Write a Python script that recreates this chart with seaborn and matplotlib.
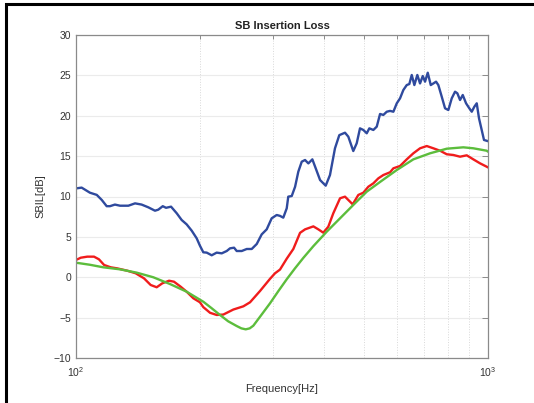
import matplotlib
matplotlib.use("Agg")
import matplotlib.pyplot as plt
import seaborn as sns
import numpy as np
from matplotlib.ticker import LogLocator, NullFormatter

# ---------------- data ----------------
blue_f = [100.0, 103.2, 108.1, 112.3, 115.5, 118.7, 120.9, 124.3, 127.9, 134.0, 139.1, 144.3,
          149.8, 155.5, 158.4, 162.4, 165.4, 170.1, 175.6, 180.5, 185.6, 190.9, 196.3, 199.9,
          203.7, 207.6, 213.5, 219.5, 225.8, 232.2, 236.5, 241.9, 245.5, 252.5, 259.7, 267.0,
          274.6, 282.3, 290.3, 298.5, 307.0, 312.7, 318.5, 324.7, 327.5, 333.9, 340.2, 346.4,
          353.1, 359.7, 366.4, 374.7, 381.8, 391.2, 403.7, 413.5, 425.2, 435.6, 449.7, 458.1,
          471.0, 480.1, 489.0, 498.2, 507.8, 515.2, 526.9, 537.0, 547.0, 557.2, 567.9, 578.5,
          589.3, 600.6, 611.7, 623.1, 635.0, 644.3, 653.0, 662.6, 673.7, 684.0, 694.4, 703.4,
          714.1, 726.2, 736.8, 748.0, 757.7, 772.2, 786.6, 801.3, 816.6, 831.8, 842.6, 855.4,
          868.4, 884.6, 901.0, 913.2, 926.5, 939.0, 951.0, 965.4, 977.9, 992.8, 1000.0]
blue_v = [11.0, 11.1, 10.47, 10.2, 9.57, 8.8, 8.8, 9.0, 8.86, 8.86, 9.15, 9.0,
          8.66, 8.24, 8.37, 8.8, 8.6, 8.74, 7.92, 7.09, 6.55, 5.77, 4.82, 3.91,
          3.09, 3.05, 2.72, 3.05, 2.96, 3.25, 3.58, 3.66, 3.25, 3.25, 3.5, 3.5,
          4.12, 5.31, 5.93, 7.3, 7.71, 7.6, 7.38, 8.54, 9.98, 10.06, 11.2, 13.07,
          14.31, 14.52, 14.1, 14.6, 13.49, 12.04, 11.34, 12.66, 15.97, 17.6, 17.9, 17.41,
          15.63, 16.59, 18.44, 18.24, 17.83, 18.44, 18.24, 18.65, 20.22, 20.1, 20.5, 20.6,
          20.5, 21.54, 22.16, 23.19, 23.8, 23.93, 25.05, 23.8, 25.05, 24.0, 24.92, 24.22,
          25.33, 23.8, 24.0, 24.22, 23.8, 22.36, 20.92, 20.71, 22.16, 22.98, 22.78, 21.95,
          22.57, 21.54, 20.92, 20.5, 21.12, 21.54, 19.68, 18.24, 17.0, 16.9, 16.85]

red_f = [100.0, 102.7, 106.5, 110.6, 113.7, 117.0, 121.4, 125.9, 133.2, 139.6, 146.2, 151.8,
         157.0, 162.0, 168.2, 172.9, 179.5, 185.6, 192.6, 199.9, 203.7, 211.5, 219.5, 227.8,
         240.9, 254.8, 264.5, 279.7, 295.7, 304.1, 312.7, 324.7, 336.9, 349.8, 359.7, 376.8,
         387.5, 398.3, 409.6, 421.2, 437.4, 449.7, 458.1, 469.5, 484.4, 498.2, 512.3, 526.9,
         541.8, 557.2, 578.5, 589.3, 611.7, 635.0, 658.9, 684.0, 710.1, 736.8, 764.9, 794.1,
         824.0, 855.4, 888.0, 921.3, 956.3, 992.8, 1000.0]
red_v = [2.14, 2.42, 2.55, 2.55, 2.22, 1.52, 1.23, 1.1, 0.81, 0.49, -0.13, -0.96,
         -1.24, -0.75, -0.43, -0.55, -1.17, -1.79, -2.6, -3.1, -3.7, -4.4, -4.67, -4.62,
         -4.0, -3.6, -3.1, -1.7, -0.2, 0.49, 0.95, 2.3, 3.5, 5.5, 5.93, 6.3,
         5.93, 5.52, 6.26, 7.92, 9.78, 9.98, 9.57, 9.03, 10.19, 10.47, 11.21, 11.63,
         12.25, 12.66, 13.0, 13.49, 13.78, 14.6, 15.35, 15.97, 16.25, 15.97, 15.67, 15.23,
         15.14, 14.93, 15.1, 14.6, 14.11, 13.69, 13.6]

green_f = [100.0, 108.0, 116.5, 127.9, 140.4, 154.0, 169.1, 185.6, 203.7, 213.0, 223.6, 234.0,
           245.5, 252.0, 258.2, 264.0, 269.4, 281.0, 295.7, 310.0, 324.7, 340.0, 356.3, 376.8,
           406.0, 437.4, 471.0, 507.8, 547.0, 600.6, 658.9, 723.4, 794.1, 871.0, 921.3, 992.8,
           1000.0]
green_v = [1.8, 1.55, 1.23, 0.98, 0.57, 0.0, -0.84, -1.79, -3.03, -3.8, -4.67, -5.45,
           -6.04, -6.33, -6.45, -6.33, -6.0, -4.75, -3.23, -1.7, -0.25, 1.1, 2.4, 3.85,
           5.64, 7.3, 8.95, 10.6, 11.8, 13.28, 14.6, 15.35, 15.92, 16.09, 15.97, 15.67,
           15.55]

title = "SB Insertion Loss"
xlabel = "Frequency[Hz]"
ylabel = "SBIL[dB]"
y_ticks = [-10, -5, 0, 5, 10, 15, 20, 25, 30]

# ---------------- style ----------------
sns.set_theme(style="white")
plt.rcParams['font.family'] = ['Liberation Sans', 'DejaVu Sans']
plt.rcParams['mathtext.fontset'] = 'custom'
plt.rcParams['mathtext.rm'] = 'Liberation Sans'

fig = plt.figure(figsize=(5.34, 4.03), dpi=100)
fig.patch.set_facecolor("white")
ax = fig.add_axes([76 / 534, (403 - 358) / 403, (488 - 76) / 534, (358 - 35) / 403])

lw = 1.7
sns.lineplot(x=blue_f, y=blue_v, ax=ax, color="#2f4a9e", lw=lw)
sns.lineplot(x=red_f, y=red_v, ax=ax, color="#f01c1c", lw=lw)
sns.lineplot(x=green_f, y=green_v, ax=ax, color="#5cbd3c", lw=lw)

ax.set_xscale("log")
ax.set_xlim(100, 1000)
ax.set_ylim(-10, 30)
ax.set_yticks(y_ticks)
ax.xaxis.set_major_locator(LogLocator(base=10, numticks=5))
ax.xaxis.set_minor_locator(LogLocator(base=10, subs=np.arange(2, 10), numticks=20))
ax.xaxis.set_minor_formatter(NullFormatter())

spine_c = "#8a8a8a"
for s in ax.spines.values():
    s.set_visible(True)
    s.set_color(spine_c)
    s.set_linewidth(0.9)

ax.tick_params(axis="both", which="both", direction="in", top=True, right=True,
               color=spine_c, labelcolor="#333333", labelsize=7.5, width=0.7)
ax.tick_params(axis="both", which="major", length=4)
ax.tick_params(axis="x", which="minor", length=3)
ax.tick_params(axis="x", which="major", pad=5)

ax.grid(True, axis="y", which="major", color="#ebebeb", lw=0.8, ls="-")
ax.grid(True, axis="x", which="minor", color="#d8d8d8", lw=0.7, ls=":")
ax.grid(False, axis="x", which="major")
ax.set_axisbelow(True)

ax.set_title(title, fontsize=8, fontweight="bold", color="#222222", pad=4)
ax.set_xlabel(xlabel, fontsize=8, color="#333333", labelpad=4)
ax.set_ylabel(ylabel, fontsize=8, color="#333333", labelpad=6)

# figure frame (top and left edges visible)
frame = plt.Rectangle((6 / 534, -0.05), 1.2, 1.05 - 4 / 403, transform=fig.transFigure,
                      fill=False, ec="black", lw=2.2)
fig.add_artist(frame)

fig.savefig("out.png", dpi=100, facecolor="white")
